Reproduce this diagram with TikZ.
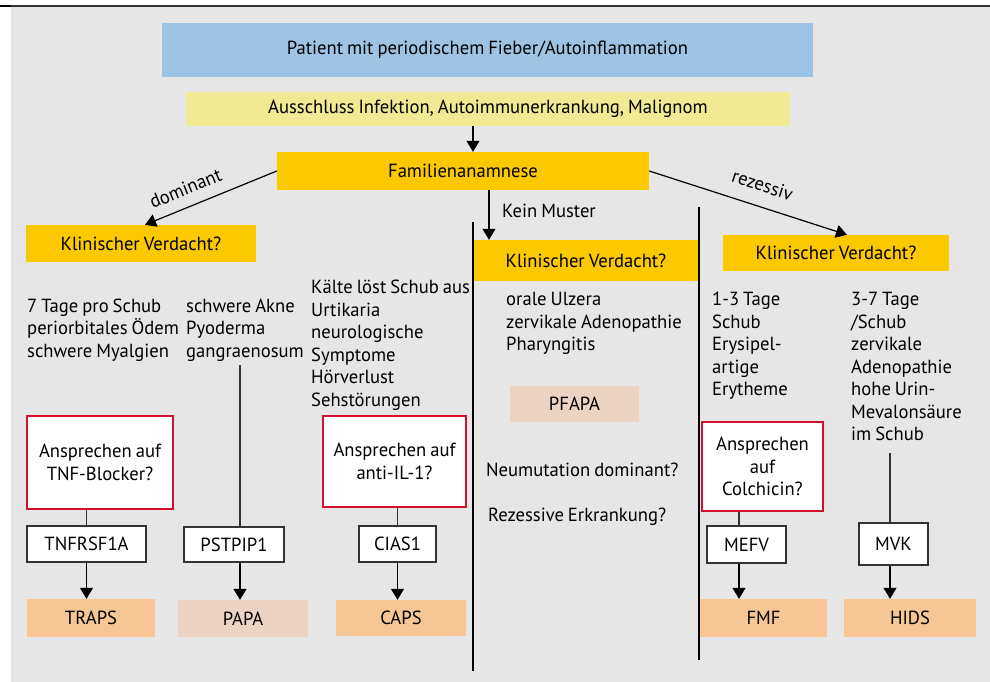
\documentclass[tikz,border=0pt]{standalone}
\usepackage{fontspec}
\setmainfont{PT Sans}[WordSpace=0.8,FakeStretch=0.98]
\usetikzlibrary{arrows.meta,positioning}
\definecolor{bgGrey}{HTML}{E6E6E6}
\definecolor{patBlue}{HTML}{9DC3E5}
\definecolor{exclYellow}{HTML}{EFEA93}
\definecolor{famGold}{HTML}{FCC800}
\definecolor{disOrange}{HTML}{F6C794}
\definecolor{disPink}{HTML}{ECD4C4}
\definecolor{askRed}{HTML}{D0112B}
\definecolor{lineGrey}{HTML}{333333}
\newcommand{\diafont}{\fontsize{19}{22.5}\selectfont}

\begin{document}
\begin{tikzpicture}[x=1pt,y=-1pt,
    every node/.style={inner sep=0pt,font=\diafont},
    patbox/.style={fill=patBlue},
    exclbox/.style={fill=exclYellow},
    fambox/.style={fill=famGold},
    askbox/.style={draw=askRed,line width=2.4pt,fill=white,align=center},
    genebox/.style={draw=lineGrey,line width=1.4pt,fill=white},
    disbox/.style={fill=disOrange},
    palebox/.style={fill=disPink},
    sympt/.style={anchor=north west,align=left},
    arr/.style={-{Triangle[width=13pt,length=11pt]},line width=1.2pt},
    link/.style={line width=1.2pt,lineGrey}]
    \useasboundingbox (0,0) rectangle (990,682);
    \fill[bgGrey] (11,7) rectangle (990,682);
    \draw[lineGrey,line width=1.5pt] (0,6) -- (990,6);
    \draw[black,line width=2.5pt] (0,6) -- (11,6);

    % top of the tree
    \node[patbox,minimum width=651pt,minimum height=54pt] (patient) at (487.5,50) {Patient mit periodischem Fieber/Autoinflammation};
    \node[exclbox,minimum width=604pt,minimum height=34pt] (ausschl) at (488,109) {Ausschluss Infektion, Autoimmunerkrankung, Malignom};
    \node[fambox,minimum width=372pt,minimum height=38pt] (famil) at (463,171) {Familienanamnese};
    \draw[arr] ([xshift=10pt]famil.north |- ausschl.south) -- ([xshift=10pt]famil.north);

    % three branches
    \node[fambox,minimum width=230pt,minimum height=37pt] (kvdom) at (141,243.5) {Klinischer Verdacht?};
    \node[fambox,minimum width=226pt,minimum height=41pt] (kvnone) at (586,260.5) {Klinischer Verdacht?};
    \node[fambox,minimum width=226pt,minimum height=36pt] (kvrez) at (836,253) {Klinischer Verdacht?};
    \draw[arr] (famil.west) -- node[sloped,above=11pt,pos=0.64] (lbldom) {dominant} ([xshift=4pt]kvdom.north);
    \draw[arr] (famil.east) -- node[sloped,above=14pt,pos=0.54] (lblrez) {rezessiv} ([xshift=11pt]kvrez.north);
    \draw[arr] ([xshift=26pt]famil.south) -- ([xshift=26pt]famil.south |- kvnone.north);
    \node[anchor=base west] (keinm) at (502,217) {Kein Muster};
    \draw[line width=1.4pt] (473,222) -- (473,671);
    \draw[line width=1.4pt] (699,207) -- (699,660);

    % symptoms
    \node[sympt] (sytraps) at (27,298.5) {7 Tage pro Schub\\periorbitales Ödem\\schwere Myalgien};
    \node[sympt] (sypapa) at (186,298.5) {schwere Akne\\Pyoderma\\gangraenosum};
    \node[sympt] (sycaps) at (311,280) {Kälte löst Schub aus\\Urtikaria\\neurologische\\Symptome\\Hörverlust\\Sehstörungen};
    \node[sympt] (sypfapa) at (506,292) {orale Ulzera\\zervikale Adenopathie\\Pharyngitis};
    \node[sympt] (syfmf) at (712,292) {1-3 Tage\\Schub\\Erysipel-\\artige\\Erytheme};
    \node[sympt] (syhids) at (851,292) {3-7 Tage\\/Schub\\zervikale\\Adenopathie\\hohe Urin-\\Mevalonsäure\\im Schub};
    \node[palebox,minimum width=129pt,minimum height=36pt] (pfapa) at (574.5,404) {PFAPA};
    \node[anchor=base west] (neumut) at (486,476) {Neumutation dominant?};
    \node[anchor=base west] (rezerk) at (488,521) {Rezessive Erkrankung?};

    % therapy questions
    \node[askbox,minimum width=146pt,minimum height=93pt] (asktnf) at (100,462.5) {Ansprechen auf\\TNF-Blocker?};
    \node[askbox,minimum width=143pt,minimum height=91pt] (askil) at (394.5,461.5) {Ansprechen auf\\anti-IL-1?};
    \node[askbox,minimum width=121pt,minimum height=89pt] (askcol) at (762.5,466.5) {Ansprechen\\auf\\Colchicin?};

    % genes
    \node[genebox,minimum width=119pt,minimum height=36pt] (gtnf) at (86.5,544) {TNFRSF1A};
    \node[genebox,minimum width=100pt,minimum height=35pt] (gpst) at (234,544.5) {PSTPIP1};
    \node[genebox,minimum width=77pt,minimum height=36pt] (gcias) at (397.5,544) {CIAS1};
    \node[genebox,minimum width=79pt,minimum height=37pt] (gmefv) at (746.5,544.5) {MEFV};
    \node[genebox,minimum width=69pt,minimum height=42pt] (gmvk) at (893.5,544) {MVK};

    % diseases
    \node[disbox,minimum width=128pt,minimum height=38pt] (traps) at (91,618) {TRAPS};
    \node[palebox,minimum width=130pt,minimum height=37pt] (papa) at (243,618.5) {PAPA};
    \node[disbox,minimum width=130pt,minimum height=36pt] (caps) at (401,618) {CAPS};
    \node[disbox,minimum width=127pt,minimum height=38pt] (fmf) at (763.5,618) {FMF};
    \node[disbox,minimum width=132pt,minimum height=38pt] (hids) at (910,618) {HIDS};

    % connections
    \coordinate (papatop) at (240,365);
    \coordinate (hidstop) at (890,453);
    \coordinate (fmfcol) at (739,0);
    \draw[link] (gtnf.north) -- (gtnf.north |- asktnf.south);
    \draw[link] (gcias.north) -- (gcias.north |- askil.south);
    \draw[link] (fmfcol |- gmefv.north) -- (fmfcol |- askcol.south);
    \draw[link] (papatop) -- (papatop |- gpst.north);
    \draw[link] (hidstop) -- (hidstop |- gmvk.north);
    \draw[arr] (gtnf.south) -- (gtnf.south |- traps.north);
    \draw[arr] (papatop |- gpst.south) -- (papatop |- papa.north);
    \draw[arr] (gcias.south) -- (gcias.south |- caps.north);
    \draw[arr] (fmfcol |- gmefv.south) -- (fmfcol |- fmf.north);
    \draw[arr] (hidstop |- gmvk.south) -- (hidstop |- hids.north);
\end{tikzpicture}
\end{document}
